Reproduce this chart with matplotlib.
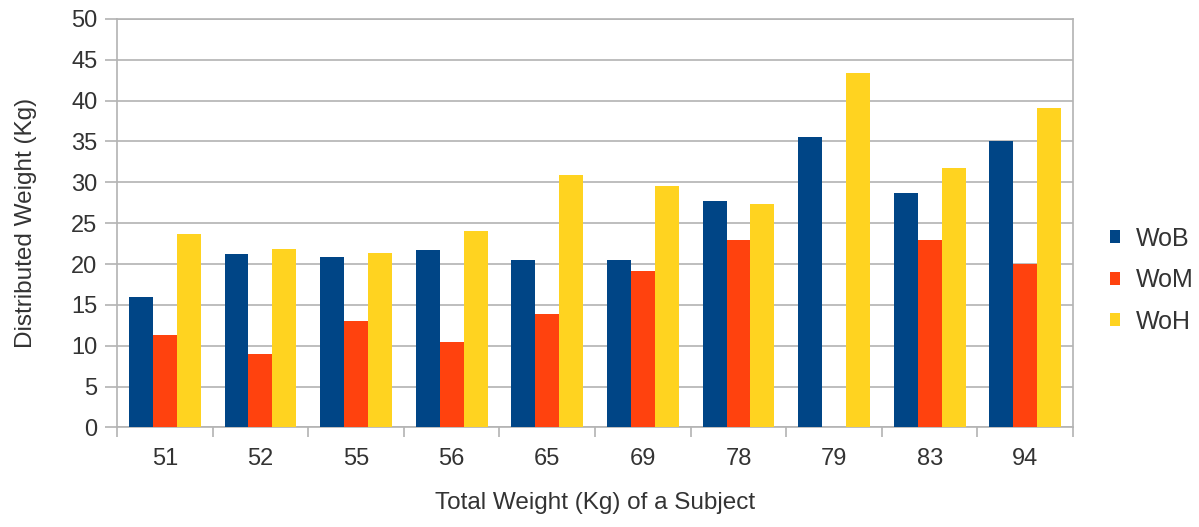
import numpy as np
import matplotlib
matplotlib.use("Agg")
import matplotlib.pyplot as plt
from matplotlib.ticker import MultipleLocator, FixedLocator

# Data
subjects = ["51", "52", "55", "56", "65", "69", "78", "79", "83", "94"]
wob = [16.0, 21.2, 20.9, 21.7, 20.5, 20.5, 27.7, 35.6, 28.7, 35.1]
wom = [11.3, 9.0, 13.0, 10.5, 13.9, 19.2, 23.0, 0.0, 23.0, 20.0]
woh = [23.7, 21.8, 21.3, 24.0, 30.9, 29.6, 27.4, 43.4, 31.7, 39.1]

plt.rcParams["font.family"] = ["Liberation Sans", "DejaVu Sans"]
text_color = "#333333"
grid_color = "#b3b3b3"

fig = plt.figure(figsize=(11.99, 5.27), dpi=100)
ax = fig.add_axes([0.0976, 0.189, 0.7974, 0.775])

x = np.arange(len(subjects))
w = 0.25
ax.bar(x - w, wob, w, color="#004586", label="WoB", zorder=3)
ax.bar(x, wom, w, color="#ff420e", label="WoM", zorder=3)
ax.bar(x + w, woh, w, color="#ffd320", label="WoH", zorder=3)

ax.set_xlim(-0.5, len(subjects) - 0.5)
ax.set_ylim(0, 50)
ax.yaxis.set_major_locator(MultipleLocator(5))
ax.grid(axis="y", color=grid_color, linewidth=1.2, zorder=0)

# category labels in the middle, tick marks on the boundaries
ax.set_xticks(x)
ax.set_xticklabels(subjects)
ax.tick_params(axis="x", which="major", length=0, pad=15, labelsize=17, labelcolor=text_color)
ax.xaxis.set_minor_locator(FixedLocator(np.arange(-0.5, len(subjects), 1)))
ax.tick_params(axis="x", which="minor", length=7, width=1.2, color=grid_color, direction="out")
ax.tick_params(axis="y", length=9, width=1.2, color=grid_color, labelsize=17,
               labelcolor=text_color, pad=5)

for s in ax.spines.values():
    s.set_color(grid_color)
    s.set_linewidth(1.2)

ax.set_xlabel("Total Weight (Kg) of a Subject", fontsize=17.5, color=text_color, labelpad=16)
ax.set_ylabel("Distributed Weight (Kg)", fontsize=17.5, color=text_color, labelpad=25)

leg = ax.legend(loc="center left", bbox_to_anchor=(1.015, 0.36), frameon=False,
                fontsize=18, handlelength=0.42, handleheight=0.42, handletextpad=0.6,
                labelspacing=0.7, labelcolor=text_color)

fig.savefig("out.png", dpi=100)
